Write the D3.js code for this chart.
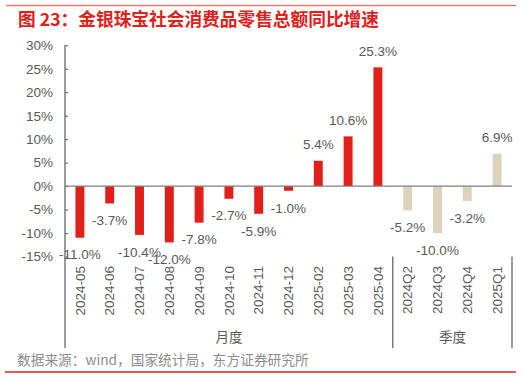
<!DOCTYPE html>
<html>
<head>
<meta charset="utf-8">
<style>
body { margin: 0; background: #fff; }
svg text { font-family: "Liberation Sans", Arial, "Noto Sans CJK SC", sans-serif; }
.cjk { font-family: "Noto Sans CJK SC", sans-serif !important; }
</style>
</head>
<body>
<div id="chart"></div>
<script src="https://d3js.org/d3.v7.min.js"></script>
<script>

// data
var months = ["2024-05","2024-06","2024-07","2024-08","2024-09","2024-10","2024-11","2024-12","2025-02","2025-03","2025-04"];
var monthVals = [-11.0, -3.7, -10.4, -12.0, -7.8, -2.7, -5.9, -1.0, 5.4, 10.6, 25.3];
var quarters = ["2024Q2","2024Q3","2024Q4","2025Q1"];
var quarterVals = [-5.2, -10.0, -3.2, 6.9];
var yTicks = [-15, -10, -5, 0, 5, 10, 15, 20, 25, 30];
var groups = ["月度", "季度"];

var W = 522, H = 379;
var plotL = 65, plotR = 512, plotT = 45.3, plotB = 256.5;

var svg = d3.select("#chart").append("svg")
    .attr("width", W)
    .attr("height", H);

// frame lines + title
svg.append("line").attr("x1", 6).attr("x2", 516).attr("y1", 5.5).attr("y2", 5.5)
    .attr("stroke", "#ee7a74").attr("stroke-width", 1.5);
svg.append("text").attr("class", "cjk")
    .attr("x", 18).attr("y", 26)
    .attr("font-size", "17.7px").attr("font-weight", "bold")
    .attr("fill", "#e0201b")
    .text("图 23：金银珠宝社会消费品零售总额同比增速");

var data = months.map(function(m, i) { return {cat: m, v: monthVals[i], q: false}; })
  .concat(quarters.map(function(m, i) { return {cat: m, v: quarterVals[i], q: true}; }));

var x = d3.scaleBand()
    .domain(data.map(function(d) { return d.cat; }))
    .range([plotL, plotR])
    .paddingInner(0.7)
    .paddingOuter(0.35);

var y = d3.scaleLinear().domain([-15, 30]).range([plotB, plotT]);

var g = svg.append("g");

// y axis
var yAxis = d3.axisLeft(y).tickValues(yTicks)
    .tickSize(-3)
    .tickFormat(function(d) { return d + "%"; });
var ya = g.append("g").attr("transform", "translate(" + plotL + ",0)").call(yAxis);
ya.select(".domain").remove();
ya.selectAll(".tick line").attr("stroke", "#595959");
ya.selectAll(".tick text").attr("x", -12).attr("font-size", "13.5px").attr("fill", "#595959");
g.append("line").attr("x1", plotL).attr("x2", plotL).attr("y1", plotT).attr("y2", 348)
    .attr("stroke", "#595959").attr("stroke-width", 1.2);

// bars
g.selectAll(".bar").data(data).enter().append("rect")
    .attr("class", "bar")
    .attr("x", function(d) { return x(d.cat); })
    .attr("width", x.bandwidth())
    .attr("y", function(d) { return y(Math.max(0, d.v)); })
    .attr("height", function(d) { return Math.abs(y(d.v) - y(0)); })
    .attr("fill", function(d) { return d.q ? "#ddd3bd" : "#e2201a"; });

// zero line
g.append("line").attr("x1", plotL).attr("x2", plotR).attr("y1", y(0)).attr("y2", y(0))
    .attr("stroke", "#7f7f7f").attr("stroke-width", 1.2);

// value labels
g.selectAll(".lbl").data(data).enter().append("text")
    .attr("class", "lbl")
    .attr("x", function(d) { return x(d.cat) + x.bandwidth() / 2; })
    .attr("y", function(d) { return d.v >= 0 ? y(d.v) - 16 : y(d.v) + 17; })
    .attr("dy", "0.35em")
    .attr("text-anchor", "middle")
    .attr("font-size", "13.5px")
    .attr("fill", "#595959")
    .text(function(d) { return d.v.toFixed(1) + "%"; });

// category labels (rotated)
g.selectAll(".cat").data(data).enter().append("text")
    .attr("class", "cat")
    .attr("transform", function(d) {
      return "translate(" + (x(d.cat) + x.bandwidth() / 2) + ",266) rotate(-90)";
    })
    .attr("text-anchor", "end")
    .attr("dy", "0.35em")
    .attr("font-size", "13.5px")
    .attr("fill", "#595959")
    .text(function(d) { return d.cat; });

// group separators
var sep = x(quarters[0]) - x.step() * x.paddingInner() / 2;
[sep, plotR].forEach(function(xx) {
  g.append("line").attr("x1", xx).attr("x2", xx).attr("y1", plotB).attr("y2", 348)
      .attr("stroke", "#595959").attr("stroke-width", 1.2);
});
var gx = [(plotL + sep) / 2, (sep + plotR) / 2];
g.selectAll(".grp").data(groups).enter().append("text")
    .attr("class", "grp cjk")
    .attr("x", function(d, i) { return gx[i]; })
    .attr("y", 337)
    .attr("dy", "0.35em")
    .attr("text-anchor", "middle")
    .attr("font-size", "13.5px")
    .attr("fill", "#595959")
    .text(function(d) { return d; });

// source + bottom line
svg.append("text").attr("class", "cjk")
    .attr("x", 17).attr("y", 360.5).attr("dy", "0.35em")
    .attr("font-size", "13.7px").attr("fill", "#8c8c8c")
    .text("数据来源：wind，国家统计局，东方证券研究所");
svg.append("line").attr("x1", 5).attr("x2", 516).attr("y1", 372).attr("y2", 372)
    .attr("stroke", "#e0201b").attr("stroke-width", 1.5);

</script>
</body>
</html>
